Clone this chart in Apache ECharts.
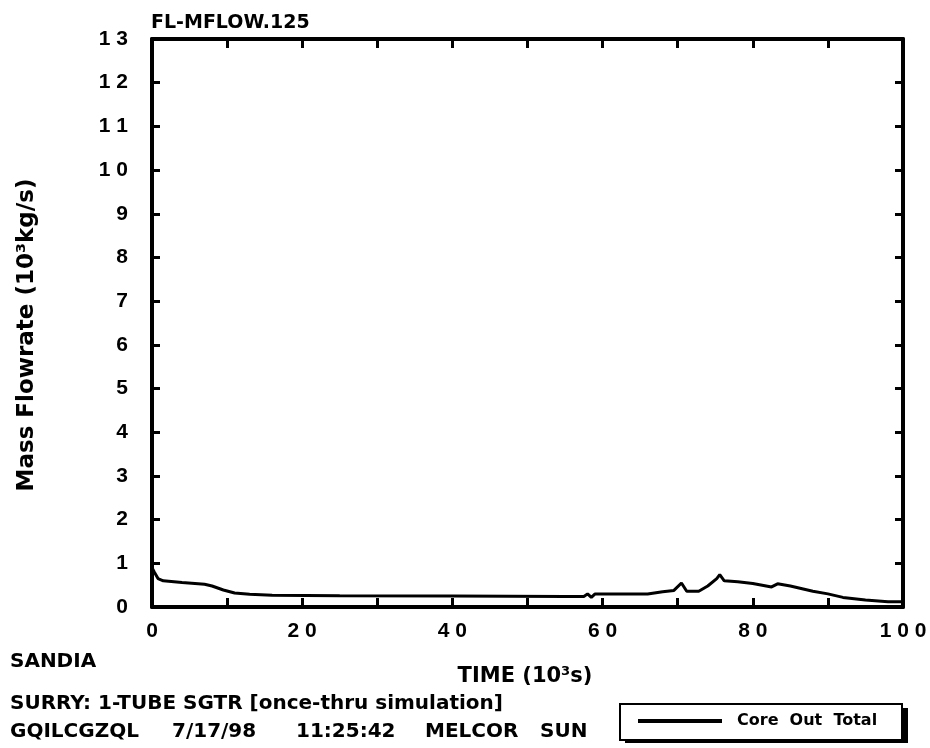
<!DOCTYPE html>
<html>
<head>
<meta charset="utf-8">
<script src="https://cdn.jsdelivr.net/npm/echarts@6/dist/echarts.min.js"></script>
<style>
html,body{margin:0;padding:0;background:#fff;}
#chart{width:930px;height:748px;}
</style>
</head>
<body>
<div id="chart"></div>
<script>
// Data (time in 10^3 s, flow in 10^3 kg/s)
var timeValues = [0, 0.3, 0.8, 1.5, 4, 7, 8, 9.5, 11, 13, 16, 25, 40, 55, 57.5, 58, 58.5, 59, 60, 66, 68, 69.5, 70.5, 71.2, 72.8, 74, 75.2, 75.6, 76.2, 78, 80, 82.5, 83.3, 85, 88, 90, 92, 95, 98, 100];
var flowValues = [0.9, 0.8, 0.65, 0.6, 0.56, 0.52, 0.48, 0.39, 0.32, 0.29, 0.27, 0.26, 0.25, 0.24, 0.24, 0.3, 0.22, 0.3, 0.3, 0.3, 0.35, 0.38, 0.55, 0.36, 0.36, 0.48, 0.65, 0.74, 0.6, 0.58, 0.54, 0.46, 0.53, 0.48, 0.36, 0.3, 0.22, 0.16, 0.12, 0.12];
var seriesName = 'Core Out Total';
var titleText = 'FL-MFLOW.125';
var yAxisTitle = 'Mass Flowrate (10\u00B3kg/s)';
var xAxisTitle = 'TIME (10\u00B3s)';
var footerTop = ['SANDIA', 'SURRY: 1-TUBE SGTR [once-thru simulation]'];
var footerStamp = ['GQILCGZQL', '7/17/98', '11:25:42', 'MELCOR', 'SUN'];

var points = timeValues.map(function (t, i) { return [t, flowValues[i]]; });
var TICKFONT = 'Liberation Sans';
var TXT = 'DejaVu Sans';
function spaced(v) { return String(v).split('').join(' '); }

var stampX = [10, 172, 296, 425, 540];

var graphics = [
  { type: 'text', left: 10, top: 652, style: { text: footerTop[0], font: 'bold 20px "DejaVu Sans"', fill: '#000' } },
  { type: 'text', x: 525, y: 677, style: { text: xAxisTitle, font: 'bold 21px "DejaVu Sans"', fill: '#000', textAlign: 'center', textVerticalAlign: 'middle' } },
  { type: 'text', left: 10, top: 694, style: { text: footerTop[1], font: 'bold 20px "DejaVu Sans"', fill: '#000' } },
  { type: 'rect', shape: { x: 625, y: 708, width: 283, height: 35 }, style: { fill: '#000' }, z: 0 },
  { type: 'rect', shape: { x: 620, y: 704, width: 282, height: 36 }, style: { fill: '#fff', stroke: '#000', lineWidth: 2 }, z: 1 }
];
footerStamp.forEach(function (w, i) {
  graphics.push({ type: 'text', left: stampX[i], top: 722, style: { text: w, font: 'bold 20px "DejaVu Sans"', fill: '#000' } });
});

var chart = echarts.init(document.getElementById('chart'));
var axisLineStyle = { color: '#000', width: 4 };
var tickStyle = { color: '#000', width: 3 };
chart.setOption({
  backgroundColor: '#fff',
  animation: false,
  grid: { left: 152, right: 27, top: 39, bottom: 141 },
  title: {
    text: titleText, left: 151, top: 14, padding: 0,
    textStyle: { fontFamily: TXT, fontWeight: 'bold', fontSize: 19, color: '#000' }
  },
  xAxis: [{
    type: 'value', min: 0, max: 100, interval: 10, position: 'bottom',
    axisLine: { show: true, onZero: false, lineStyle: axisLineStyle },
    axisTick: { show: true, inside: true, length: 9, lineStyle: tickStyle },
    splitLine: { show: false },
    axisLabel: {
      margin: 14, color: '#000', fontFamily: TICKFONT, fontWeight: 'bold', fontSize: 21,
      formatter: function (v) { return v % 20 === 0 ? spaced(v) : ''; }
    }
  }, {
    type: 'value', min: 0, max: 100, interval: 10, position: 'top',
    axisLine: { show: true, onZero: false, lineStyle: axisLineStyle },
    axisTick: { show: true, inside: true, length: 9, lineStyle: tickStyle },
    splitLine: { show: false },
    axisLabel: { show: false }
  }],
  yAxis: [{
    type: 'value', min: 0, max: 13, interval: 1, position: 'left',
    axisLine: { show: true, onZero: false, lineStyle: axisLineStyle },
    axisTick: { show: true, inside: true, length: 8, lineStyle: tickStyle },
    splitLine: { show: false },
    axisLabel: {
      margin: 24, color: '#000', fontFamily: TICKFONT, fontWeight: 'bold', fontSize: 21,
      formatter: function (v) { return spaced(v); }
    },
    name: yAxisTitle, nameLocation: 'middle', nameGap: 113, nameRotate: 90,
    nameTextStyle: { fontFamily: TXT, fontWeight: 'bold', fontSize: 23, color: '#000', padding: [0, 24, 0, 0] }
  }, {
    type: 'value', min: 0, max: 13, interval: 1, position: 'right',
    axisLine: { show: true, onZero: false, lineStyle: axisLineStyle },
    axisTick: { show: true, inside: true, length: 8, lineStyle: tickStyle },
    splitLine: { show: false },
    axisLabel: { show: false }
  }],
  legend: {
    data: [seriesName], left: 638, top: 713, padding: 0,
    icon: 'rect', itemWidth: 84, itemHeight: 4,
    itemStyle: { color: '#000' },
    formatter: function (n) { return n.split(' ').join('  '); },
    textStyle: { fontFamily: TXT, fontWeight: 'bold', fontSize: 16, color: '#000', padding: [0, 0, 0, 10] }
  },
  graphic: graphics,
  series: [{
    name: seriesName, type: 'line', data: points,
    showSymbol: false, symbol: 'none', smooth: false,
    lineStyle: { color: '#000', width: 3 }, itemStyle: { color: '#000' }
  }]
});
</script>
</body>
</html>
